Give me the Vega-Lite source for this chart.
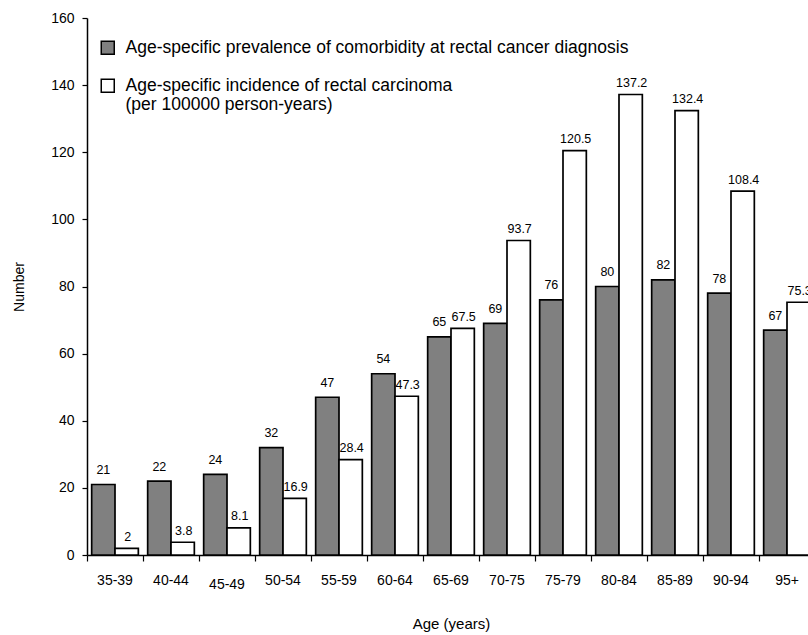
{
  "$schema": "https://vega.github.io/schema/vega-lite/v6.json",
  "autosize": {"type": "none"},
  "padding": {"left": 87, "top": 18, "right": 0, "bottom": 80},
  "width": 728,
  "height": 537,
  "background": "white",
  "config": {
    "font": "Liberation Sans",
    "view": {"stroke": null},
    "axis": {"domainColor": "black", "tickColor": "black", "labelColor": "black", "titleColor": "black", "grid": false, "labelFont": "Liberation Sans", "titleFont": "Liberation Sans", "titleFontWeight": "normal", "domainWidth": 1.5, "tickWidth": 1.2}
  },
  "data": {"values": [
    {"age": "35-39", "series": "prev", "value": 21},
    {"age": "35-39", "series": "inc", "value": 2},
    {"age": "40-44", "series": "prev", "value": 22},
    {"age": "40-44", "series": "inc", "value": 3.8},
    {"age": "45-49", "series": "prev", "value": 24},
    {"age": "45-49", "series": "inc", "value": 8.1},
    {"age": "50-54", "series": "prev", "value": 32},
    {"age": "50-54", "series": "inc", "value": 16.9},
    {"age": "55-59", "series": "prev", "value": 47},
    {"age": "55-59", "series": "inc", "value": 28.4},
    {"age": "60-64", "series": "prev", "value": 54},
    {"age": "60-64", "series": "inc", "value": 47.3},
    {"age": "65-69", "series": "prev", "value": 65},
    {"age": "65-69", "series": "inc", "value": 67.5},
    {"age": "70-75", "series": "prev", "value": 69},
    {"age": "70-75", "series": "inc", "value": 93.7},
    {"age": "75-79", "series": "prev", "value": 76},
    {"age": "75-79", "series": "inc", "value": 120.5},
    {"age": "80-84", "series": "prev", "value": 80},
    {"age": "80-84", "series": "inc", "value": 137.2},
    {"age": "85-89", "series": "prev", "value": 82},
    {"age": "85-89", "series": "inc", "value": 132.4},
    {"age": "90-94", "series": "prev", "value": 78},
    {"age": "90-94", "series": "inc", "value": 108.4},
    {"age": "95+", "series": "prev", "value": 67},
    {"age": "95+", "series": "inc", "value": 75.3}
  ]},
  "encoding": {
    "x": {"field": "age", "type": "nominal", "sort": null, "scale": {"paddingInner": 0, "paddingOuter": 0}},
    "xOffset": {"field": "series", "type": "nominal", "sort": ["prev", "inc"], "scale": {"paddingInner": 0, "paddingOuter": 0.2}},
    "y": {"field": "value", "type": "quantitative", "scale": {"domain": [0, 160], "nice": false},
      "axis": {"values": [0, 20, 40, 60, 80, 100, 120, 140, 160], "title": "Number", "labelFontSize": 14, "tickSize": 5, "labelPadding": 8, "titleFontSize": 14, "titlePadding": 24}}
  },
  "layer": [
    {
      "mark": {"type": "bar", "stroke": "black", "strokeWidth": 1.7},
      "encoding": {
        "x": {"field": "age", "type": "nominal", "sort": null,
          "axis": {"title": "Age (years)", "labelAngle": 0, "ticks": false, "labelFontSize": 14, "titleFontSize": 15, "titlePadding": 25, "orient": "bottom",
            "labelPadding": {"condition": {"test": "datum.value === '45-49'", "value": 22}, "value": 18}}},
        "color": {"field": "series", "type": "nominal",
          "scale": {"domain": ["prev", "inc"], "range": ["#808080", "#ffffff"]},
          "legend": {"title": null, "orient": "none", "legendX": 12, "legendY": 21, "symbolType": "square", "symbolSize": 169, "symbolStrokeColor": "black", "symbolStrokeWidth": 1.5, "symbolOpacity": 1, "labelFontSize": 17.5, "labelColor": "black", "labelOffset": 9, "rowPadding": 18, "labelLimit": 0,
            "labelExpr": "datum.label === 'prev' ? 'Age-specific prevalence of comorbidity at rectal cancer diagnosis' : ['Age-specific incidence of rectal carcinoma', '(per 100000 person-years)']"}}
      }
    },
    {
      "transform": [{"filter": "datum.series === 'prev'"}],
      "mark": {"type": "text", "baseline": "alphabetic", "dy": -10.5, "fontSize": 12.5, "color": "black"},
      "encoding": {
        "x": {"field": "age", "type": "nominal", "sort": null,
          "axis": {"orient": "bottom", "bandPosition": 0, "labels": false, "title": null, "domain": false, "tickSize": 6, "ticks": true}},
        "text": {"field": "value", "type": "quantitative"}
      }
    },
    {
      "transform": [{"filter": "datum.series === 'inc'"}],
      "mark": {"type": "text", "baseline": "alphabetic", "dy": -7.5, "dx": 1, "fontSize": 12.5, "color": "black"},
      "encoding": {
        "x": {"field": "age", "type": "nominal", "sort": null, "axis": null},
        "text": {"field": "value", "type": "quantitative"}
      }
    }
  ],
  "resolve": {"axis": {"x": "independent"}}
}
